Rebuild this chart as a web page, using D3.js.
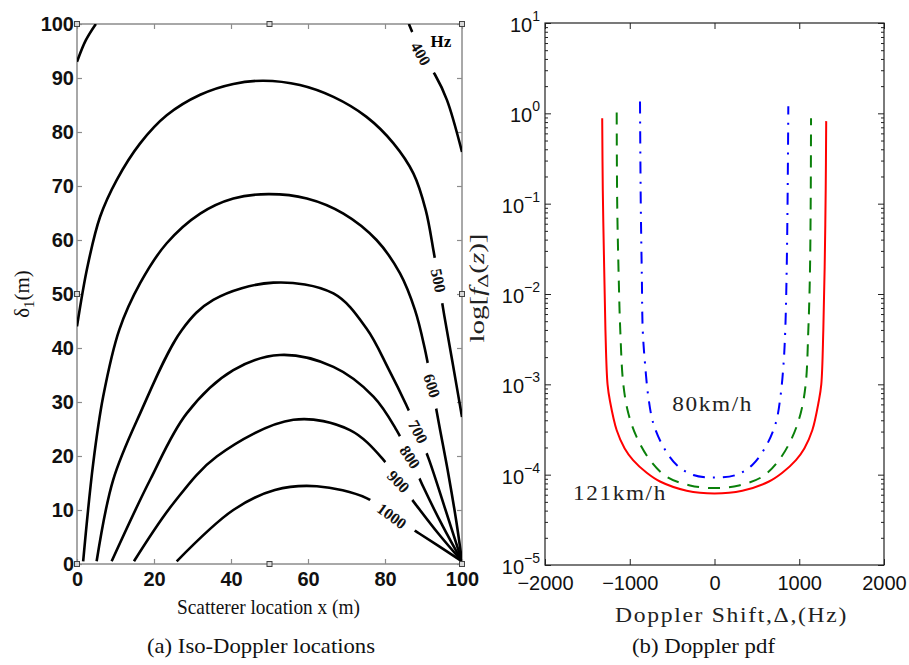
<!DOCTYPE html>
<html lang="en">
<head>
<meta charset="UTF-8">
<title>Iso-Doppler locations and Doppler pdf</title>
<script src="https://d3js.org/d3.v7.min.js"></script>
<style>
  body { margin: 0; background: #fff; }
  svg { display: block; }
</style>
</head>
<body>
<svg id="fig" width="909" height="665"></svg>
<script>
// ---- panel (a): iso-Doppler contours, [x (m), delta1 (m)] ----
const xTicksA = [0, 20, 40, 60, 80, 100];
const yTicksA = [0, 10, 20, 30, 40, 50, 60, 70, 80, 90, 100];
const handleA = [0, 50, 100];

const contour400a = [[0, 93], [2.3, 97], [4.9, 100]];
const contour400b = [[86.2, 100], [87.6, 97.6], [89.3, 94.5], [93, 90.6], [96.1, 85.9], [100, 76.3]];
const contour500 = [[0, 44], [2.7, 55], [6, 64.3], [10.3, 71.1], [16.4, 77.9], [23.3, 83.1], [32, 86.9],
  [40.6, 88.9], [48.4, 89.5], [57.9, 88.7], [66.6, 86.5], [75.2, 82.8], [82.2, 77.9], [87.4, 72.3],
  [90.6, 65.5], [92.6, 58], [93.9, 52.5], [95.4, 46], [97.5, 37.5], [100, 27.2]];
const contour600 = [[1.6, 0.5], [4.2, 18.6], [6.8, 31], [11, 43.4], [16.4, 52], [23.3, 59.4], [32, 64.9],
  [40.6, 67.7], [49.7, 68.5], [59.7, 67.7], [69.2, 64.9], [77.8, 60], [83.9, 53.8], [87.8, 47],
  [90.3, 40], [92.2, 33], [94, 26], [96.5, 16.5], [98.5, 8], [100, 0.5]];
const contour700 = [[5.1, 0.5], [9.4, 15.6], [16.4, 27.9], [27.2, 43.3], [35.4, 48.9], [51, 52.1],
  [66.6, 50.1], [75.2, 43.6], [81, 36], [85.5, 29.5], [88.6, 24.5], [91.5, 19.2], [95.5, 10.5], [100, 0.5]];
const contour800 = [[9, 0.5], [19, 15.6], [28.5, 27.9], [40.6, 35.9], [52.7, 38.7], [66.6, 36.5],
  [77, 31], [83, 24.8], [86.5, 19.8], [90, 14.2], [95, 7], [100, 0.5]];
const contour900 = [[14.8, 0.5], [25, 11.2], [36.3, 19.9], [56.2, 26.7], [70.9, 24.8], [79.6, 19.3],
  [83.5, 15.3], [88, 11], [94, 5.5], [100, 0.5]];
const contour1000 = [[25.9, 0.5], [40.6, 10], [51.4, 13.7], [62.3, 14.4], [75.2, 12.2], [81.8, 8.9],
  [89, 5.6], [100, 0.5]];
const contours = [contour400a, contour400b, contour500, contour600, contour700, contour800, contour900, contour1000];

const contourLevels = [400, 500, 600, 700, 800, 900, 1000];
const labelX = [89.3, 93.9, 92.2, 88.6, 86.5, 83.5, 81.8];
const labelY = [94.5, 52.5, 33, 24.5, 19.8, 15.3, 8.9];
const labelAngle = [60, 78, 72, 62, 56, 46, 36];

// ---- panel (b): Doppler pdf, [shift (Hz), f] ----
const xTicksB = [-2000, -1000, 0, 1000, 2000];
const yTicksB = [1e-5, 1e-4, 1e-3, 1e-2, 1e-1, 1e0, 1e1];

const pdf121 = [[-1325, 0.88], [-1318, 0.14], [-1302, 0.02], [-1287, 4e-3], [-1262, 1e-3], [-1233, 6.5e-4],
  [-1154, 3.1e-4], [-1060, 1.95e-4], [-961, 1.45e-4], [-800, 1.05e-4], [-643, 8.4e-5], [-328, 6.65e-5],
  [0, 6.2e-5], [328, 6.65e-5], [643, 8.4e-5], [800, 1.05e-4], [961, 1.45e-4], [1060, 1.95e-4],
  [1154, 3.1e-4], [1230, 6.5e-4], [1260, 1e-3], [1284, 4e-3], [1300, 0.02], [1312, 0.14], [1318, 0.82]];
const pdfMid = [[-1154, 1.02], [-1148, 0.1], [-1130, 0.015], [-1112, 4e-3], [-1076, 1e-3], [-1017, 4.8e-4],
  [-918, 2.6e-4], [-761, 1.45e-4], [-564, 9.5e-5], [-289, 7.6e-5], [0, 7.1e-5], [289, 7.6e-5],
  [564, 9.5e-5], [761, 1.45e-4], [918, 2.6e-4], [1017, 4.8e-4], [1076, 1e-3], [1107, 4e-3],
  [1125, 0.015], [1135, 0.1], [1139, 0.88]];
const pdf80 = [[-879, 1.35], [-870, 0.1], [-857, 0.015], [-847, 4e-3], [-820, 1.7e-3], [-781, 7.3e-4],
  [-722, 3.7e-4], [-604, 2.04e-4], [-446, 1.28e-4], [-250, 9.9e-5], [0, 9.3e-5], [250, 9.9e-5],
  [446, 1.28e-4], [604, 2.04e-4], [722, 3.7e-4], [778, 7.3e-4], [815, 1.7e-3], [835, 4e-3],
  [850, 0.015], [862, 0.1], [871, 1.2]];

const fig = d3.select("#fig");
const serif = "'Liberation Serif', 'Times New Roman', serif";
const sans = "'Liberation Sans', Arial, Helvetica, sans-serif";

// ================= panel (a) =================
const xA = d3.scaleLinear().domain([0, 100]).range([77, 462]);
const yA = d3.scaleLinear().domain([0, 100]).range([564, 24]);
const gA = fig.append("g");
const grey = "#8c8c8c";

function styleA(g) {
  g.select(".domain").remove();
  g.selectAll(".tick line").attr("stroke", grey).attr("stroke-width", 1.2);
  g.selectAll(".tick text").attr("font-family", sans).attr("font-weight", "bold")
    .attr("font-size", 20).attr("fill", "#111");
}

gA.append("g").attr("transform", `translate(0,${yA(0)})`)
  .call(d3.axisBottom(xA).tickValues(xTicksA).tickSizeInner(-5).tickSizeOuter(0).tickPadding(8))
  .call(styleA);
gA.append("g").attr("transform", `translate(0,${yA(100)})`)
  .call(d3.axisTop(xA).tickValues(xTicksA).tickFormat("").tickSizeInner(-5).tickSizeOuter(0))
  .call(styleA);
gA.append("g").attr("transform", `translate(${xA(0)},0)`)
  .call(d3.axisLeft(yA).tickValues(yTicksA).tickSizeInner(-5).tickSizeOuter(0).tickPadding(3))
  .call(styleA);
gA.append("g").attr("transform", `translate(${xA(100)},0)`)
  .call(d3.axisRight(yA).tickValues(yTicksA).tickFormat("").tickSizeInner(-5).tickSizeOuter(0))
  .call(styleA);

gA.append("rect")
  .attr("x", xA(0)).attr("y", yA(100))
  .attr("width", xA(100) - xA(0)).attr("height", yA(0) - yA(100))
  .attr("fill", "none").attr("stroke", grey).attr("stroke-width", 1.5);

fig.append("clipPath").attr("id", "clipA").append("rect")
  .attr("x", xA(0)).attr("y", yA(100))
  .attr("width", xA(100) - xA(0)).attr("height", yA(0) - yA(100));

const lineA = d3.line().x(d => xA(d[0])).y(d => yA(d[1])).curve(d3.curveCatmullRom.alpha(0.5));
gA.append("g").attr("clip-path", "url(#clipA)")
  .selectAll("path").data(contours).join("path")
  .attr("d", lineA).attr("fill", "none").attr("stroke", "#000").attr("stroke-width", 2.6);

// contour labels sitting in a gap of the line
const labs = gA.selectAll(".clab").data(contourLevels).join("g").attr("class", "clab")
  .attr("transform", (d, i) => `translate(${xA(labelX[i])},${yA(labelY[i])}) rotate(${labelAngle[i]})`);
labs.append("rect")
  .attr("x", d => -(String(d).length * 8 + 22) / 2).attr("y", -6)
  .attr("width", d => String(d).length * 8 + 22).attr("height", 12).attr("fill", "#fff");
labs.append("text").text(d => d)
  .attr("text-anchor", "middle").attr("dy", "0.35em")
  .attr("font-family", serif).attr("font-weight", "bold").attr("font-size", 16).attr("fill", "#111");

gA.append("text").text("Hz").attr("x", xA(91.8)).attr("y", 47)
  .attr("font-family", serif).attr("font-weight", "bold").attr("font-size", 17);

// edit handles on the frame
const handles = [];
handleA.forEach(hx => handleA.forEach(hy => { if (!(hx === 50 && hy === 50)) handles.push([hx, hy]); }));
gA.selectAll(".handle").data(handles).join("rect").attr("class", "handle")
  .attr("x", d => xA(d[0]) - 2.5).attr("y", d => yA(d[1]) - 2.5)
  .attr("width", 5).attr("height", 5)
  .attr("fill", "#d8d8d8").attr("stroke", "#444").attr("stroke-width", 1);

gA.append("text").text("Scatterer location x (m)")
  .attr("x", 177).attr("y", 614).attr("textLength", 183).attr("lengthAdjust", "spacingAndGlyphs")
  .attr("font-family", serif).attr("font-size", 21).attr("fill", "#111");

const yLabA = gA.append("text").attr("transform", "translate(29,294) rotate(-90)")
  .attr("text-anchor", "middle").attr("font-family", serif).attr("font-size", 21).attr("fill", "#111");
yLabA.append("tspan").text("δ");
yLabA.append("tspan").text("1").attr("font-size", 15).attr("dy", 5);
yLabA.append("tspan").text("(m)").attr("dy", -5);

fig.append("text").text("(a) Iso-Doppler locations")
  .attr("x", 147).attr("y", 653).attr("textLength", 228).attr("lengthAdjust", "spacingAndGlyphs")
  .attr("font-family", serif).attr("font-size", 21).attr("fill", "#111");

// ================= panel (b) =================
const xB = d3.scaleLinear().domain([-2000, 2000]).range([545, 884]);
const yB = d3.scaleLog().domain([1e-5, 10]).range([565, 23]);
const gB = fig.append("g");
const minorB = yB.ticks().filter(v => !yTicksB.some(t => Math.abs(t - v) / t < 1e-9));

function styleB(g) {
  g.select(".domain").remove();
  g.selectAll(".tick line").attr("stroke", "#222").attr("stroke-width", 1);
  g.selectAll(".tick text").attr("font-family", sans).attr("font-size", 20).attr("fill", "#111");
}
const fmtX = d => d < 0 ? "\u2212" + Math.abs(d) : String(d);

gB.append("g").attr("transform", `translate(0,${yB(1e-5)})`)
  .call(d3.axisBottom(xB).tickValues(xTicksB).tickFormat(fmtX).tickSizeInner(-6).tickSizeOuter(0).tickPadding(11))
  .call(styleB);
gB.append("g").attr("transform", `translate(0,${yB(10)})`)
  .call(d3.axisTop(xB).tickValues(xTicksB).tickFormat("").tickSizeInner(-6).tickSizeOuter(0))
  .call(styleB);

const yAxisL = gB.append("g").attr("transform", `translate(${xB(-2000)},0)`)
  .call(d3.axisLeft(yB).tickValues(yTicksB).tickSizeInner(-6).tickSizeOuter(0).tickPadding(5))
  .call(styleB);
yAxisL.selectAll(".tick text").each(function (d) {
  const t = d3.select(this).text("").attr("dy", 8.5);
  t.append("tspan").text("10");
  const e = Math.round(Math.log10(d));
  t.append("tspan").text(e < 0 ? "\u2212" + Math.abs(e) : String(e)).attr("font-size", 14).attr("dy", -11);
});
gB.append("g").attr("transform", `translate(${xB(-2000)},0)`)
  .call(d3.axisLeft(yB).tickValues(minorB).tickFormat("").tickSizeInner(-3).tickSizeOuter(0))
  .call(styleB);
gB.append("g").attr("transform", `translate(${xB(2000)},0)`)
  .call(d3.axisRight(yB).tickValues(yTicksB).tickFormat("").tickSizeInner(-6).tickSizeOuter(0))
  .call(styleB);
gB.append("g").attr("transform", `translate(${xB(2000)},0)`)
  .call(d3.axisRight(yB).tickValues(minorB).tickFormat("").tickSizeInner(-3).tickSizeOuter(0))
  .call(styleB);

gB.append("rect")
  .attr("x", xB(-2000)).attr("y", yB(10))
  .attr("width", xB(2000) - xB(-2000)).attr("height", yB(1e-5) - yB(10))
  .attr("fill", "none").attr("stroke", "#222").attr("stroke-width", 1.2);

const lineB = d3.line().x(d => xB(d[0])).y(d => yB(d[1])).curve(d3.curveCatmullRom.alpha(0.5));
const seriesB = [
  { data: pdf121, color: "#ff0000", dash: null },
  { data: pdfMid, color: "#0a800a", dash: "12,9" },
  { data: pdf80, color: "#0000ff", dash: "12,8,2,8" }
];
gB.selectAll(".pdf").data(seriesB).join("path").attr("class", "pdf")
  .attr("d", d => lineB(d.data)).attr("fill", "none")
  .attr("stroke", d => d.color).attr("stroke-width", 2)
  .attr("stroke-dasharray", d => d.dash);

// computer-modern look: slightly spaced, slightly widened glyphs
function cmText(sel, len) {
  sel.attr("font-family", serif).attr("fill", "#222").attr("letter-spacing", 1.5)
    .attr("textLength", len).attr("lengthAdjust", "spacingAndGlyphs");
}
gB.append("text").text("80km/h")
  .attr("x", xB(-500)).attr("y", yB(5.1e-4)).attr("font-size", 21).call(cmText, 81);
gB.append("text").text("121km/h")
  .attr("x", xB(-1670)).attr("y", yB(5.2e-5)).attr("font-size", 21).call(cmText, 94);
gB.append("text").text("Doppler Shift,\u0394,(Hz)")
  .attr("x", 615).attr("y", 622).attr("font-size", 21).call(cmText, 233);

const yLabB = gB.append("text").attr("transform", "translate(484,288) rotate(-90)")
  .attr("text-anchor", "middle").attr("font-family", serif).attr("font-size", 20).attr("fill", "#222")
  .attr("textLength", 109).attr("lengthAdjust", "spacingAndGlyphs");
yLabB.append("tspan").text("log[");
yLabB.append("tspan").text("f").attr("font-style", "italic");
yLabB.append("tspan").text("\u0394").attr("font-size", 15).attr("dy", 4);
yLabB.append("tspan").text("(").attr("dy", -4);
yLabB.append("tspan").text("z").attr("font-style", "italic");
yLabB.append("tspan").text(")]");

fig.append("text").text("(b) Doppler pdf")
  .attr("x", 632).attr("y", 653).attr("textLength", 143).attr("lengthAdjust", "spacingAndGlyphs")
  .attr("font-family", serif).attr("font-size", 21).attr("fill", "#111");
</script>
</body>
</html>
